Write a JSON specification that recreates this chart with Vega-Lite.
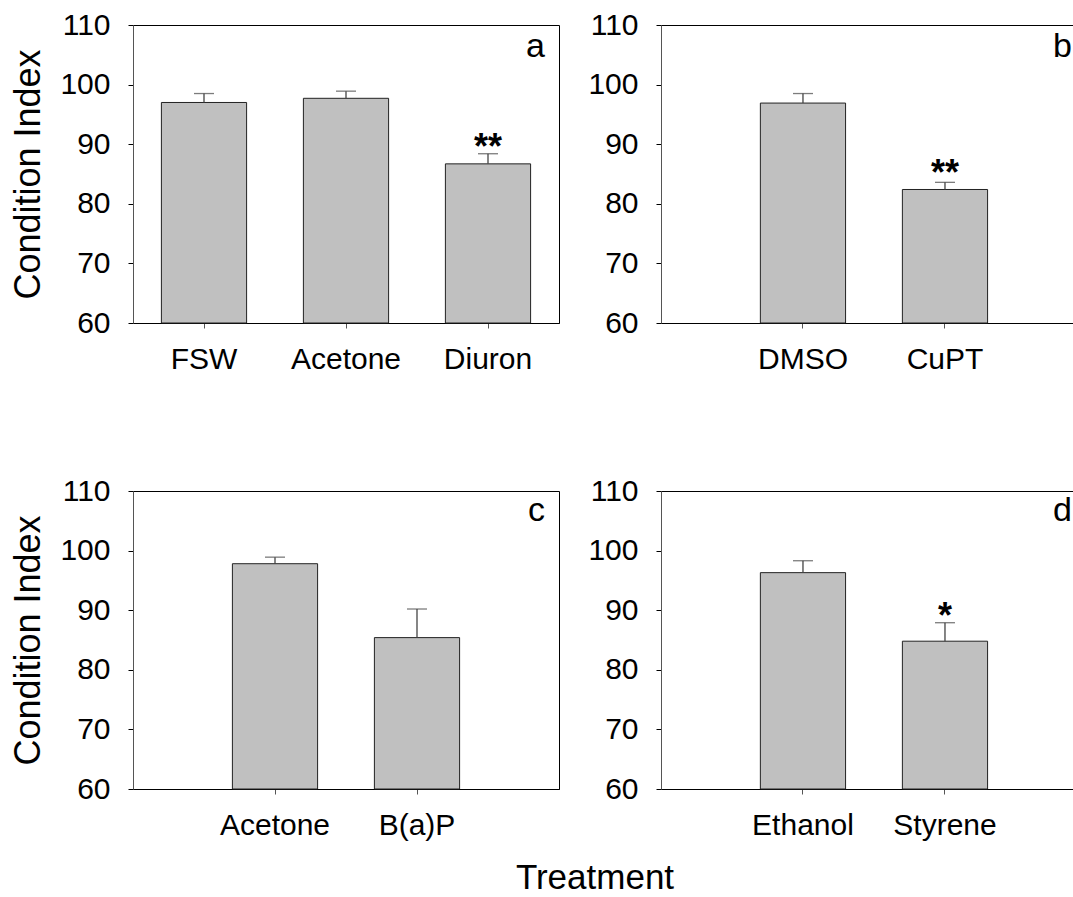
{
  "$schema": "https://vega.github.io/schema/vega-lite/v6.json",
  "padding": {"left": 10, "top": 9, "right": 0, "bottom": 0},
  "autosize": {"type": "pad"},
  "background": "#ffffff",
  "title": {"text": "Treatment", "orient": "bottom", "anchor": "middle", "fontSize": 35, "fontWeight": "normal", "color": "#000", "offset": 20, "dx": 52},
  "datasets": {
    "a": [
      {"treatment": "FSW", "mean": 97.0, "upper": 98.5, "sig": ""},
      {"treatment": "Acetone", "mean": 97.7, "upper": 98.9, "sig": ""},
      {"treatment": "Diuron", "mean": 86.7, "upper": 88.4, "sig": "**"}
    ],
    "b": [
      {"treatment": "DMSO", "mean": 96.9, "upper": 98.5, "sig": ""},
      {"treatment": "CuPT", "mean": 82.4, "upper": 83.6, "sig": "**"}
    ],
    "c": [
      {"treatment": "Acetone", "mean": 97.8, "upper": 98.9, "sig": ""},
      {"treatment": "B(a)P", "mean": 85.4, "upper": 90.2, "sig": ""}
    ],
    "d": [
      {"treatment": "Ethanol", "mean": 96.3, "upper": 98.3, "sig": ""},
      {"treatment": "Styrene", "mean": 84.8, "upper": 87.9, "sig": "*"}
    ],
    "letters": [
      {"panel": "a"}, {"panel": "b"}, {"panel": "c"}, {"panel": "d"}
    ]
  },
  "columns": 2,
  "spacing": {"row": 100, "column": 27},
  "concat": [
    {
      "width": 426, "height": 298,
      "encoding": {"x": {"field": "treatment", "type": "nominal", "sort": null, "scale": {"paddingInner": 0.4, "paddingOuter": 0.2}, "axis": {"title": null}}},
      "layer": [
        {"data": {"name": "a"}, "mark": {"type": "bar", "fill": "#c0c0c0", "stroke": "#222", "strokeWidth": 1},
         "encoding": {"y": {"field": "mean", "type": "quantitative", "scale": {"domain": [60, 110], "zero": false, "nice": false}, "axis": {"title": "Condition Index", "values": [60, 70, 80, 90, 100, 110]}}, "y2": {"datum": 60}}},
        {"data": {"name": "a"}, "mark": {"type": "rule", "color": "#444", "strokeWidth": 1.3},
         "encoding": {"y": {"field": "mean", "type": "quantitative"}, "y2": {"field": "upper"}}},
        {"data": {"name": "a"}, "mark": {"type": "tick", "color": "#444", "size": 20, "thickness": 1.3},
         "encoding": {"y": {"field": "upper", "type": "quantitative"}}},
        {"data": {"name": "a"}, "transform": [{"filter": "datum.sig != ''"}],
         "mark": {"type": "text", "fontSize": 36, "fontWeight": "bold", "baseline": "alphabetic", "dy": 5, "color": "#000"},
         "encoding": {"y": {"field": "upper", "type": "quantitative"}, "text": {"field": "sig"}}},
        {"data": {"name": "letters"}, "transform": [{"filter": "datum.panel == 'a'"}],
         "mark": {"type": "text", "fontSize": 34, "align": "right", "baseline": "alphabetic", "dx": -14, "dy": 32, "color": "#000"},
         "encoding": {"x": {"value": "width"}, "y": {"datum": 110, "type": "quantitative"}, "text": {"field": "panel"}}}
      ]
    },
    {
      "width": 414, "height": 298,
      "encoding": {"x": {"field": "treatment", "type": "nominal", "sort": null, "scale": {"paddingInner": 0.4, "paddingOuter": 0.6577, "align": 0.532}, "axis": {"title": null}}},
      "layer": [
        {"data": {"name": "b"}, "mark": {"type": "bar", "fill": "#c0c0c0", "stroke": "#222", "strokeWidth": 1},
         "encoding": {"y": {"field": "mean", "type": "quantitative", "scale": {"domain": [60, 110], "zero": false, "nice": false}, "axis": {"title": null, "values": [60, 70, 80, 90, 100, 110]}}, "y2": {"datum": 60}}},
        {"data": {"name": "b"}, "mark": {"type": "rule", "color": "#444", "strokeWidth": 1.3},
         "encoding": {"y": {"field": "mean", "type": "quantitative"}, "y2": {"field": "upper"}}},
        {"data": {"name": "b"}, "mark": {"type": "tick", "color": "#444", "size": 20, "thickness": 1.3},
         "encoding": {"y": {"field": "upper", "type": "quantitative"}}},
        {"data": {"name": "b"}, "transform": [{"filter": "datum.sig != ''"}],
         "mark": {"type": "text", "fontSize": 36, "fontWeight": "bold", "baseline": "alphabetic", "dy": 3, "color": "#000"},
         "encoding": {"y": {"field": "upper", "type": "quantitative"}, "text": {"field": "sig"}}},
        {"data": {"name": "letters"}, "transform": [{"filter": "datum.panel == 'b'"}],
         "mark": {"type": "text", "fontSize": 34, "align": "right", "baseline": "alphabetic", "dx": -3, "dy": 32, "color": "#000"},
         "encoding": {"x": {"value": "width"}, "y": {"datum": 110, "type": "quantitative"}, "text": {"field": "panel"}}}
      ]
    },
    {
      "width": 426, "height": 298,
      "encoding": {"x": {"field": "treatment", "type": "nominal", "sort": null, "scale": {"paddingInner": 0.4, "paddingOuter": 0.7}, "axis": {"title": null}}},
      "layer": [
        {"data": {"name": "c"}, "mark": {"type": "bar", "fill": "#c0c0c0", "stroke": "#222", "strokeWidth": 1},
         "encoding": {"y": {"field": "mean", "type": "quantitative", "scale": {"domain": [60, 110], "zero": false, "nice": false}, "axis": {"title": "Condition Index", "values": [60, 70, 80, 90, 100, 110]}}, "y2": {"datum": 60}}},
        {"data": {"name": "c"}, "mark": {"type": "rule", "color": "#444", "strokeWidth": 1.3},
         "encoding": {"y": {"field": "mean", "type": "quantitative"}, "y2": {"field": "upper"}}},
        {"data": {"name": "c"}, "mark": {"type": "tick", "color": "#444", "size": 20, "thickness": 1.3},
         "encoding": {"y": {"field": "upper", "type": "quantitative"}}},
        {"data": {"name": "letters"}, "transform": [{"filter": "datum.panel == 'c'"}],
         "mark": {"type": "text", "fontSize": 34, "align": "right", "baseline": "alphabetic", "dx": -14, "dy": 30, "color": "#000"},
         "encoding": {"x": {"value": "width"}, "y": {"datum": 110, "type": "quantitative"}, "text": {"field": "panel"}}}
      ]
    },
    {
      "width": 414, "height": 298,
      "encoding": {"x": {"field": "treatment", "type": "nominal", "sort": null, "scale": {"paddingInner": 0.4, "paddingOuter": 0.6577, "align": 0.532}, "axis": {"title": null}}},
      "layer": [
        {"data": {"name": "d"}, "mark": {"type": "bar", "fill": "#c0c0c0", "stroke": "#222", "strokeWidth": 1},
         "encoding": {"y": {"field": "mean", "type": "quantitative", "scale": {"domain": [60, 110], "zero": false, "nice": false}, "axis": {"title": null, "values": [60, 70, 80, 90, 100, 110]}}, "y2": {"datum": 60}}},
        {"data": {"name": "d"}, "mark": {"type": "rule", "color": "#444", "strokeWidth": 1.3},
         "encoding": {"y": {"field": "mean", "type": "quantitative"}, "y2": {"field": "upper"}}},
        {"data": {"name": "d"}, "mark": {"type": "tick", "color": "#444", "size": 20, "thickness": 1.3},
         "encoding": {"y": {"field": "upper", "type": "quantitative"}}},
        {"data": {"name": "d"}, "transform": [{"filter": "datum.sig != ''"}],
         "mark": {"type": "text", "fontSize": 36, "fontWeight": "bold", "baseline": "alphabetic", "dy": 5, "color": "#000"},
         "encoding": {"y": {"field": "upper", "type": "quantitative"}, "text": {"field": "sig"}}},
        {"data": {"name": "letters"}, "transform": [{"filter": "datum.panel == 'd'"}],
         "mark": {"type": "text", "fontSize": 34, "align": "right", "baseline": "alphabetic", "dx": -3, "dy": 30, "color": "#000"},
         "encoding": {"x": {"value": "width"}, "y": {"datum": 110, "type": "quantitative"}, "text": {"field": "panel"}}}
      ]
    }
  ],
  "config": {
    "font": "Liberation Sans",
    "view": {"stroke": "#000", "strokeWidth": 1},
    "axis": {"grid": false, "labelFontSize": 30, "labelColor": "#000", "titleFontSize": 36, "titleFontWeight": "normal", "titleColor": "#000", "tickSize": 5},
    "axisX": {"labelAngle": 0, "labelPadding": 16, "domainColor": "#000", "tickColor": "#555", "labelFontSize": 30},
    "axisY": {"labelPadding": 18, "domainColor": "#555", "tickColor": "#000", "titlePadding": 12}
  }
}
